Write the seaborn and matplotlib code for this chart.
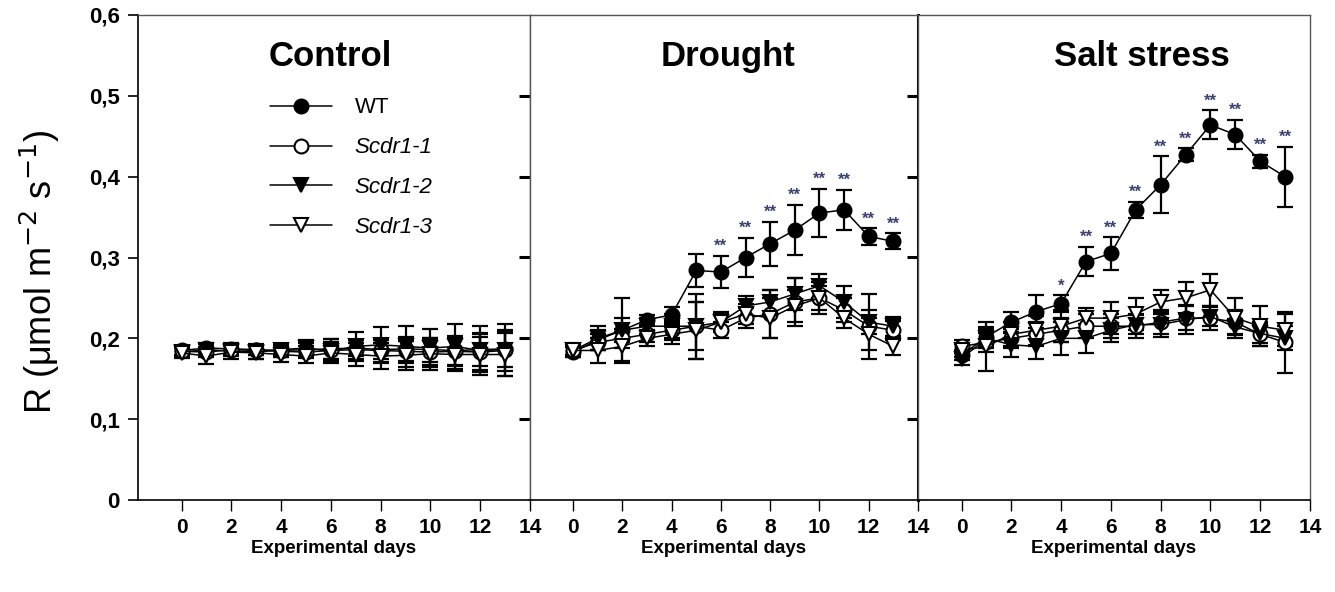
import numpy as np
import pandas as pd
import matplotlib
matplotlib.use('Agg')
import matplotlib.pyplot as plt
import seaborn as sns

# 数据
days = list(range(14))
panels = ['Control', 'Drought', 'Salt stress']
series = ['WT', 'Scdr1-1', 'Scdr1-2', 'Scdr1-3']

# Control
wt_c = [0.185, 0.188, 0.187, 0.186, 0.185, 0.186, 0.187, 0.188, 0.186, 0.187, 0.186, 0.185, 0.186, 0.187]
wt_c_err = [0.006, 0.006, 0.007, 0.007, 0.008, 0.008, 0.012, 0.010, 0.012, 0.015, 0.015, 0.018, 0.020, 0.022]
s1_c = [0.184, 0.183, 0.186, 0.185, 0.184, 0.183, 0.185, 0.186, 0.185, 0.184, 0.183, 0.184, 0.183, 0.185]
s1_c_err = [0.005, 0.006, 0.006, 0.006, 0.007, 0.007, 0.010, 0.012, 0.014, 0.015, 0.016, 0.018, 0.022, 0.025]
s2_c = [0.183, 0.186, 0.184, 0.183, 0.186, 0.188, 0.184, 0.190, 0.192, 0.190, 0.188, 0.190, 0.185, 0.186]
s2_c_err = [0.006, 0.007, 0.006, 0.008, 0.007, 0.010, 0.015, 0.018, 0.022, 0.025, 0.024, 0.028, 0.030, 0.032]
s3_c = [0.182, 0.178, 0.183, 0.182, 0.180, 0.178, 0.182, 0.180, 0.178, 0.179, 0.181, 0.180, 0.180, 0.180]
s3_c_err = [0.006, 0.010, 0.008, 0.008, 0.009, 0.008, 0.010, 0.014, 0.016, 0.018, 0.020, 0.020, 0.022, 0.026]

# Drought
wt_d = [0.183, 0.198, 0.210, 0.223, 0.229, 0.284, 0.282, 0.300, 0.317, 0.334, 0.355, 0.359, 0.326, 0.320]
wt_d_err = [0.006, 0.012, 0.040, 0.006, 0.010, 0.020, 0.020, 0.024, 0.027, 0.031, 0.030, 0.025, 0.010, 0.010]
s1_d = [0.185, 0.195, 0.200, 0.205, 0.210, 0.215, 0.210, 0.225, 0.230, 0.245, 0.250, 0.235, 0.215, 0.210]
s1_d_err = [0.006, 0.010, 0.012, 0.010, 0.012, 0.030, 0.010, 0.012, 0.030, 0.030, 0.020, 0.015, 0.040, 0.012]
s2_d = [0.185, 0.200, 0.210, 0.215, 0.215, 0.215, 0.220, 0.240, 0.245, 0.255, 0.265, 0.245, 0.220, 0.215]
s2_d_err = [0.006, 0.015, 0.015, 0.010, 0.015, 0.040, 0.012, 0.012, 0.015, 0.020, 0.015, 0.020, 0.015, 0.012]
s3_d = [0.185, 0.185, 0.190, 0.200, 0.205, 0.210, 0.220, 0.230, 0.225, 0.240, 0.250, 0.225, 0.205, 0.190]
s3_d_err = [0.008, 0.015, 0.018, 0.010, 0.012, 0.035, 0.010, 0.012, 0.025, 0.020, 0.015, 0.012, 0.020, 0.010]

# Salt stress
wt_s = [0.179, 0.202, 0.220, 0.233, 0.243, 0.295, 0.305, 0.359, 0.390, 0.427, 0.464, 0.452, 0.419, 0.400]
wt_s_err = [0.006, 0.012, 0.012, 0.020, 0.010, 0.018, 0.020, 0.010, 0.035, 0.008, 0.018, 0.018, 0.008, 0.037]
s1_s = [0.190, 0.195, 0.200, 0.205, 0.210, 0.215, 0.215, 0.215, 0.220, 0.225, 0.225, 0.220, 0.205, 0.195]
s1_s_err = [0.008, 0.012, 0.012, 0.015, 0.015, 0.015, 0.015, 0.015, 0.015, 0.015, 0.015, 0.015, 0.015, 0.038]
s2_s = [0.175, 0.200, 0.192, 0.190, 0.200, 0.200, 0.210, 0.217, 0.217, 0.223, 0.227, 0.214, 0.206, 0.200]
s2_s_err = [0.008, 0.012, 0.015, 0.015, 0.020, 0.018, 0.015, 0.012, 0.015, 0.018, 0.012, 0.010, 0.012, 0.015]
s3_s = [0.185, 0.190, 0.205, 0.210, 0.215, 0.225, 0.225, 0.230, 0.245, 0.250, 0.260, 0.225, 0.215, 0.210]
s3_s_err = [0.008, 0.030, 0.015, 0.018, 0.020, 0.012, 0.020, 0.020, 0.015, 0.020, 0.020, 0.025, 0.025, 0.020]

# 显著性标记 (WT 与突变体)
sig_c = [''] * 14
sig_d = ['', '', '', '', '', '', '**', '**', '**', '**', '**', '**', '**', '**']
sig_s = ['', '', '', '', '*', '**', '**', '**', '**', '**', '**', '**', '**', '**']

y_ticks = [0, 0.1, 0.2, 0.3, 0.4, 0.5, 0.6]
y_ticklabels = ['0', '0,1', '0,2', '0,3', '0,4', '0,5', '0,6']
x_ticks = [0, 2, 4, 6, 8, 10, 12, 14]

means = [[wt_c, s1_c, s2_c, s3_c], [wt_d, s1_d, s2_d, s3_d], [wt_s, s1_s, s2_s, s3_s]]
errs = [[wt_c_err, s1_c_err, s2_c_err, s3_c_err], [wt_d_err, s1_d_err, s2_d_err, s3_d_err],
        [wt_s_err, s1_s_err, s2_s_err, s3_s_err]]
sigs = [sig_c, sig_d, sig_s]

# 样式
sns.set_theme(style="white")
plt.rcParams['font.family'] = ['Liberation Sans', 'DejaVu Sans']
plt.rcParams['text.color'] = 'black'
plt.rcParams['axes.labelcolor'] = 'black'
plt.rcParams['xtick.color'] = 'black'
plt.rcParams['ytick.color'] = 'black'

markers = ['o', 'o', 'v', 'v']
faces = ['black', 'white', 'black', 'white']

fig = plt.figure(figsize=(13.35, 5.92), dpi=100)
W, H = 1335, 592
edges = [138, 530, 918, 1310]
top, bottom = 15, 500

for i, name in enumerate(panels):
    ax = fig.add_axes([edges[i] / W, (H - bottom) / H, (edges[i + 1] - edges[i]) / W, (bottom - top) / H])
    handles = []
    for j, s in enumerate(series):
        df = pd.DataFrame({'day': days, 'R': means[i][j]})
        ax.errorbar(df['day'], df['R'], yerr=errs[i][j], fmt='none', ecolor='black',
                    elinewidth=1.6, capsize=5.5, capthick=1.6, zorder=2)
        sns.lineplot(data=df, x='day', y='R', ax=ax, color='black', linewidth=1.1,
                     marker=markers[j], markersize=10, markerfacecolor=faces[j],
                     markeredgecolor='black', markeredgewidth=1.5, label=s, legend=False, zorder=3)
        handles.append(ax.lines[-1])

    # 显著性星号
    wt_top = np.array(means[i][0]) + np.array(errs[i][0])
    for d, lab, t in zip(days, sigs[i], wt_top):
        if lab:
            ax.text(d, t + 0.006, lab, ha='center', va='baseline', fontsize=12,
                    fontweight='bold', color='#3b4170', zorder=4)

    ax.set_xlim(-1.75, 14)
    ax.set_ylim(0, 0.6)
    ax.set_xticks(x_ticks)
    ax.set_xticklabels([str(t) for t in x_ticks], fontsize=15, fontweight='bold')
    ax.tick_params(axis='x', direction='out', length=8, width=1, pad=5, bottom=True)
    ax.set_xlabel('Experimental days', fontsize=13.5, fontweight='bold', labelpad=2)
    ax.set_ylabel('')

    ax.text([0.49, 0.51, 0.57][i], 0.915, name, transform=ax.transAxes, ha='center', va='center',
            fontsize=25, fontweight='bold')

    for sp in ax.spines.values():
        sp.set_color('#555555')
        sp.set_linewidth(1.0)
    ax.spines['bottom'].set_color('black')
    ax.spines['bottom'].set_linewidth(1.2)

    ax.set_yticks(y_ticks)
    if i == 0:
        ax.set_yticklabels(y_ticklabels, fontsize=16, fontweight='bold')
        ax.tick_params(axis='y', left=True, right=False, direction='out', length=7, width=1.2, pad=6)
        ax.spines['left'].set_color('black')
        ax.spines['left'].set_linewidth(1.2)
        leg = ax.legend(handles=handles, labels=series, loc='upper left',
                        bbox_to_anchor=(0.337, 0.83), frameon=False, fontsize=16,
                        handlelength=2.8, handletextpad=1.0, labelspacing=0.85,
                        borderpad=0, borderaxespad=0)
        for k, txt in enumerate(leg.get_texts()):
            txt.set_color('black')
            if k > 0:
                txt.set_fontstyle('italic')
    else:
        ax.tick_params(axis='y', left=False, right=False, labelleft=False)

    if i < 2:
        # 右侧向内刻度
        sec = ax.secondary_yaxis('right')
        sec.set_yticks(y_ticks[1:-1])
        sec.set_yticklabels([])
        sec.tick_params(axis='y', direction='in', length=8, width=2.2)
        sec.spines['right'].set_visible(False)
    if i == 1:
        ax.spines['right'].set_color('black')
        ax.spines['right'].set_linewidth(2.2)

fig.text(40 / W, (H - 272) / H, r'R ($\mathregular{\mu}$mol m$^{-2}$ s$^{-1}$)', rotation=90,
         ha='center', va='center', fontsize=26)

plt.savefig('out.png', dpi=100)
